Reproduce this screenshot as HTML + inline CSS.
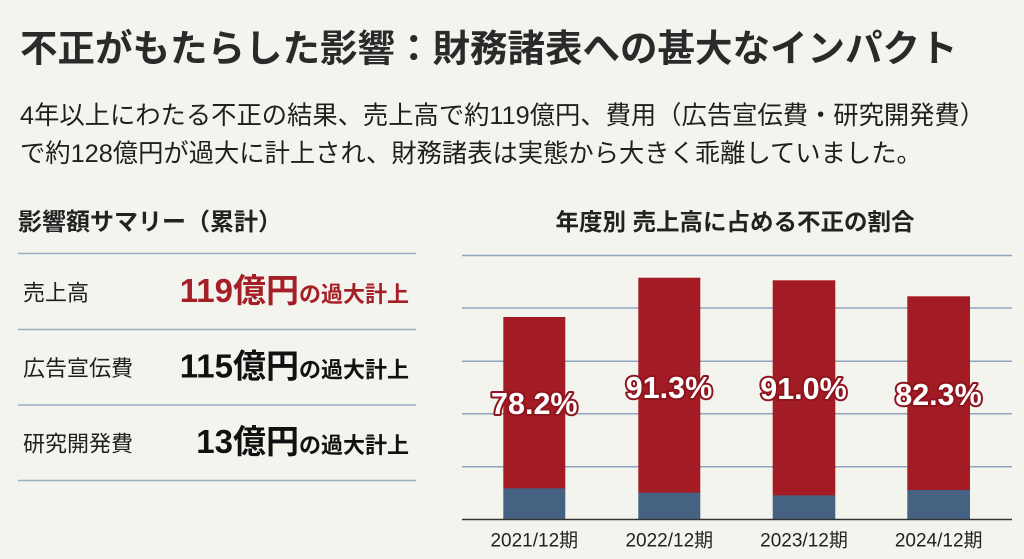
<!DOCTYPE html>
<html><head><meta charset="utf-8"><style>
html,body{margin:0;padding:0;background:#f4f4ef;}
svg{display:block;font-family:"Liberation Sans","Noto Sans CJK JP",sans-serif;}
</style></head><body>
<svg width="1024" height="559" viewBox="0 0 1024 559" xmlns="http://www.w3.org/2000/svg">
<rect width="1024" height="559" fill="#f4f4ef"/>
<text x="20" y="61.5" font-size="37.5" font-weight="bold" fill="#2a2a2a">不正がもたらした影響：財務諸表への甚大なインパクト</text>
<text x="20" y="124" font-size="25.3" fill="#1f1f1f">4年以上にわたる不正の結果、売上高で約119億円、費用（広告宣伝費・研究開発費）</text>
<text x="20" y="162" font-size="25.3" fill="#1f1f1f">で約128億円が過大に計上され、財務諸表は実態から大きく乖離していました。</text>

<text x="18" y="230" font-size="24" font-weight="bold" fill="#222">影響額サマリー（累計）</text>
<g stroke="#9aacc0" stroke-width="1.5">
<line x1="18" y1="253.5" x2="416" y2="253.5"/>
<line x1="18" y1="329.5" x2="416" y2="329.5"/>
<line x1="18" y1="405" x2="416" y2="405"/>
<line x1="18" y1="480.5" x2="416" y2="480.5"/>
</g>
<g font-size="22" fill="#1f1f1f">
<text x="23" y="300.5">売上高</text>
<text x="23" y="376">広告宣伝費</text>
<text x="23" y="451.5">研究開発費</text>
</g>
<g font-weight="bold" text-anchor="end">
<text x="409" y="302" fill="#a51f27"><tspan font-size="33">119億円</tspan><tspan font-size="22">の過大計上</tspan></text>
<text x="409" y="377.5" fill="#111"><tspan font-size="33">115億円</tspan><tspan font-size="22">の過大計上</tspan></text>
<text x="409" y="453" fill="#111"><tspan font-size="33">13億円</tspan><tspan font-size="22">の過大計上</tspan></text>
</g>

<text x="735" y="230" font-size="23.5" font-weight="bold" fill="#222" text-anchor="middle">年度別 売上高に占める不正の割合</text>
<g stroke="#8ea6bf" stroke-width="1.5">
<line x1="462" y1="255.5" x2="1012" y2="255.5"/>
<line x1="462" y1="308" x2="1012" y2="308"/>
<line x1="462" y1="361.3" x2="1012" y2="361.3"/>
<line x1="462" y1="413.7" x2="1012" y2="413.7"/>
<line x1="462" y1="466.7" x2="1012" y2="466.7"/>
</g>
<g fill="#a31c25">
<rect x="503.3" y="317" width="62" height="172"/>
<rect x="638.3" y="277.7" width="62" height="215.5"/>
<rect x="772.7" y="280.3" width="62.6" height="215.5"/>
<rect x="907.3" y="296.3" width="62.7" height="194"/>
</g>
<g fill="#456282">
<rect x="503.3" y="488.3" width="62" height="31"/>
<rect x="638.3" y="492.7" width="62" height="26.6"/>
<rect x="772.7" y="495.3" width="62.6" height="24"/>
<rect x="907.3" y="490" width="62.7" height="29.3"/>
</g>
<line x1="462" y1="519.5" x2="1012" y2="519.5" stroke="#333" stroke-width="1.5"/>
<g font-size="30.5" font-weight="bold" fill="#fff" text-anchor="middle" stroke="#8e151d" stroke-width="4" paint-order="stroke" stroke-linejoin="round">
<text x="534.3" y="414">78.2%</text>
<text x="669" y="398">91.3%</text>
<text x="803.5" y="399">91.0%</text>
<text x="938.5" y="405">82.3%</text>
</g>
<g font-size="19" fill="#222" text-anchor="middle">
<text x="534.3" y="546.5">2021/12期</text>
<text x="669.3" y="546.5">2022/12期</text>
<text x="804" y="546.5">2023/12期</text>
<text x="938.7" y="546.5">2024/12期</text>
</g>
</svg>
</body></html>
